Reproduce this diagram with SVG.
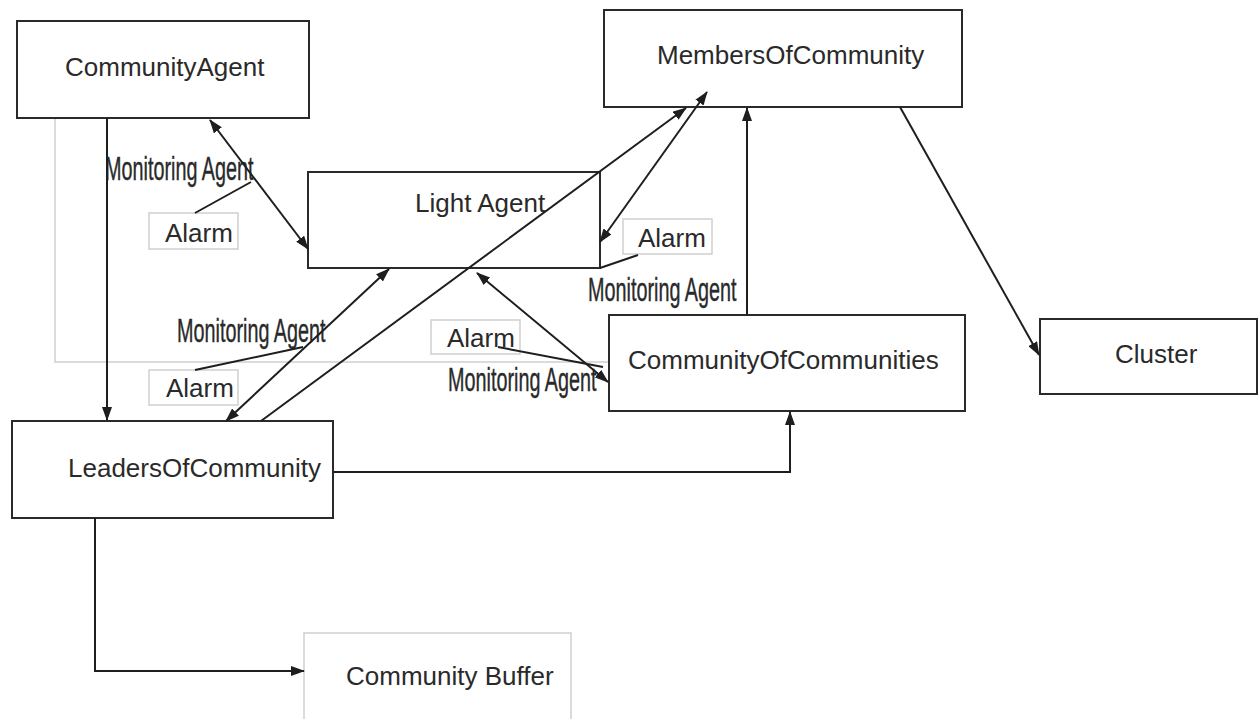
<svg xmlns="http://www.w3.org/2000/svg" width="1260" height="719" viewBox="0 0 1260 719">
<style>
.node{fill:#fff;stroke:#2a2a2a;stroke-width:2}
.soft{fill:#fff;stroke:#cfcfcf;stroke-width:1.5}
.lbl{font-family:"Liberation Sans",Arial,sans-serif;font-size:26px;fill:#2a2a2a}
.ma{font-family:"Liberation Sans",Arial,sans-serif;font-size:33px;fill:#2a2a2a;stroke:#2a2a2a;stroke-width:0.4}
.c{fill:none;stroke:#1e1e1e;stroke-width:2}
.g{fill:none;stroke:#cfcfcf;stroke-width:1.5}
</style>
<defs>
<marker id="ah" viewBox="0 0 14 10" refX="13" refY="5" markerWidth="14" markerHeight="10" markerUnits="userSpaceOnUse" orient="auto-start-reverse">
<path d="M0,0 L14,5 L0,10 Z" fill="#1e1e1e"/>
</marker>
</defs>
<rect width="1260" height="719" fill="#fff"/>
<polyline class="g" points="55,118 55,362 609,362"/>
<g id="CommunityAgent">
<rect class="node" x="17" y="21" width="292" height="97"/>
<text class="lbl" x="65" y="76">CommunityAgent</text>
</g>
<g id="MembersOfCommunity">
<rect class="node" x="604" y="10" width="358" height="97"/>
<text class="lbl" x="657" y="64">MembersOfCommunity</text>
</g>
<g id="LightAgent">
<rect class="node" x="308" y="172" width="292" height="96"/>
<text class="lbl" x="415" y="212">Light Agent</text>
</g>
<g id="CommunityOfCommunities">
<rect class="node" x="609" y="315" width="356" height="96"/>
<text class="lbl" x="628" y="369">CommunityOfCommunities</text>
</g>
<g id="Cluster">
<rect class="node" x="1040" y="319" width="217" height="75"/>
<text class="lbl" x="1115" y="363">Cluster</text>
</g>
<g id="LeadersOfCommunity">
<rect class="node" x="12" y="421" width="321" height="97"/>
<text class="lbl" x="68" y="477">LeadersOfCommunity</text>
</g>
<g id="CommunityBuffer">
<rect class="soft" x="304" y="633" width="267" height="100"/>
<text class="lbl" x="346" y="685">Community Buffer</text>
</g>
<g id="Alarm1">
<rect class="soft" x="149" y="213" width="89" height="36"/>
<text class="lbl" x="165" y="242">Alarm</text>
</g>
<g id="Alarm2">
<rect class="soft" x="623" y="219" width="89" height="35"/>
<text class="lbl" x="638" y="247">Alarm</text>
</g>
<g id="Alarm3">
<rect class="soft" x="431" y="320" width="89" height="34"/>
<text class="lbl" x="447" y="347">Alarm</text>
</g>
<g id="Alarm4">
<rect class="soft" x="149" y="370" width="89" height="35"/>
<text class="lbl" x="166" y="397">Alarm</text>
</g>
<g id="MonitoringAgent1">
<text class="ma" transform="translate(105,180) scale(0.6,1)">Monitoring Agent</text>
</g>
<g id="MonitoringAgent2">
<text class="ma" transform="translate(588,301) scale(0.6,1)">Monitoring Agent</text>
</g>
<g id="MonitoringAgent3">
<text class="ma" transform="translate(177,342) scale(0.6,1)">Monitoring Agent</text>
</g>
<g id="MonitoringAgent4">
<text class="ma" transform="translate(448,391) scale(0.6,1)">Monitoring Agent</text>
</g>
<g id="connectors">
<line class="c" x1="107" y1="118" x2="107" y2="420" marker-end="url(#ah)"/>
<line class="c" x1="210" y1="120" x2="308" y2="249" marker-start="url(#ah)" marker-end="url(#ah)"/>
<line class="c" x1="195" y1="213" x2="251" y2="182"/>
<line class="c" x1="226" y1="421" x2="389" y2="269" marker-start="url(#ah)" marker-end="url(#ah)"/>
<line class="c" x1="261" y1="421" x2="686" y2="108" marker-end="url(#ah)"/>
<line class="c" x1="707" y1="92" x2="600" y2="242" marker-start="url(#ah)" marker-end="url(#ah)"/>
<line class="c" x1="600" y1="268" x2="638" y2="255"/>
<line class="c" x1="747" y1="315" x2="747" y2="108" marker-end="url(#ah)"/>
<line class="c" x1="477" y1="273" x2="608" y2="382" marker-start="url(#ah)" marker-end="url(#ah)"/>
<line class="c" x1="498" y1="347" x2="603" y2="367"/>
<line class="c" x1="195" y1="370" x2="303" y2="347"/>
<polyline class="c" points="333,472 790,472 790,412" marker-end="url(#ah)"/>
<polyline class="c" points="95,518 95,671 304,671" marker-end="url(#ah)"/>
<line class="c" x1="900" y1="107" x2="1039" y2="355" marker-end="url(#ah)"/>
</g>
</svg>
